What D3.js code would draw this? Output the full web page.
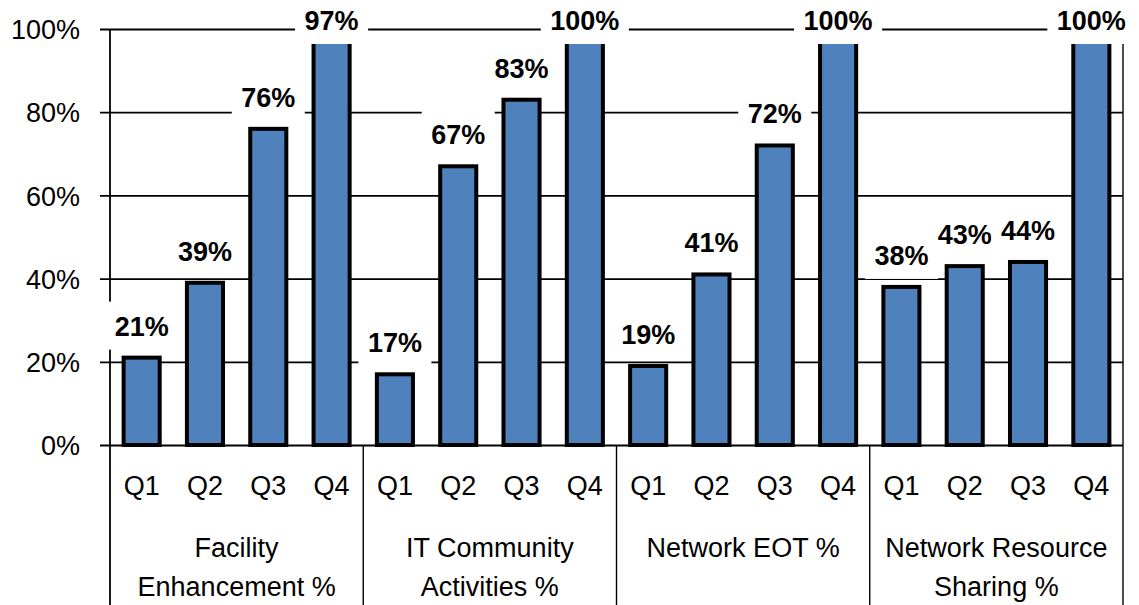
<!DOCTYPE html>
<html>
<head>
<meta charset="utf-8">
<script src="https://cdn.jsdelivr.net/npm/d3@7"></script>
<style>
  body { margin: 0; background: #fff; }
  text { font-family: "Liberation Sans", Arial, sans-serif; fill: #000; }
</style>
</head>
<body>
<div id="my_dataviz"></div>
<script>

// chart data
var groups = ["Facility Enhancement %", "IT Community Activities %", "Network EOT %", "Network Resource Sharing %"];
var groupLines = [["Facility", "Enhancement %"], ["IT Community", "Activities %"], ["Network EOT %"], ["Network Resource", "Sharing %"]];
var quarters = ["Q1", "Q2", "Q3", "Q4"];
var facility = [21, 39, 76, 97];
var community = [17, 67, 83, 100];
var eot = [19, 41, 72, 100];
var sharing = [38, 43, 44, 100];
var yTicks = [0, 20, 40, 60, 80, 100];

var seriesByGroup = [facility, community, eot, sharing];

// flatten into one row per bar
var data = [];
groups.forEach(function(g, gi) {
  quarters.forEach(function(q, qi) {
    data.push({key: gi + "-" + qi, group: g, quarter: q, value: seriesByGroup[gi][qi]});
  });
});

// set the dimensions of the graph
var W = 1139, H = 605;
var plotLeft = 110, plotRight = 1123, plotTop = 29, plotBottom = 445;

var svg = d3.select("#my_dataviz")
  .append("svg")
    .attr("width", W)
    .attr("height", H);

var x = d3.scaleBand()
  .domain(data.map(function(d) { return d.key; }))
  .range([plotLeft, plotRight])
  .paddingInner(0.43)
  .paddingOuter(0.215);

var xGroup = d3.scaleBand()
  .domain(groups)
  .range([plotLeft, plotRight]);

var y = d3.scaleLinear()
  .domain([0, 100])
  .range([plotBottom, plotTop]);

// gridlines + y tick labels
var yAxis = svg.append("g")
  .attr("transform", "translate(" + (plotLeft - 10) + ",0)")
  .call(d3.axisLeft(y)
    .tickValues(yTicks)
    .tickSizeInner(-(plotRight - plotLeft + 10))
    .tickSizeOuter(0)
    .tickPadding(20)
    .tickFormat(function(d) { return d + "%"; }));
yAxis.select(".domain").remove();
yAxis.selectAll(".tick line").attr("stroke", "#000").attr("stroke-width", 1.8);
yAxis.selectAll(".tick text")
  .style("font-size", "27px")
  .attr("dy", "0.36em")
  .attr("fill", "#000");

// left axis line and right border
svg.append("line")
  .attr("x1", plotLeft).attr("x2", plotLeft)
  .attr("y1", plotTop).attr("y2", H)
  .attr("stroke", "#000").attr("stroke-width", 1.8);
svg.append("line")
  .attr("x1", plotRight).attr("x2", plotRight)
  .attr("y1", plotTop).attr("y2", H)
  .attr("stroke", "#000").attr("stroke-width", 1.4);

// group separators under the axis
svg.selectAll(".sep")
  .data(groups.slice(1))
  .enter()
  .append("line")
    .attr("class", "sep")
    .attr("x1", function(d) { return xGroup(d); })
    .attr("x2", function(d) { return xGroup(d); })
    .attr("y1", plotBottom)
    .attr("y2", H)
    .attr("stroke", "#000")
    .attr("stroke-width", 1.4);

// bars
svg.selectAll(".bar")
  .data(data)
  .enter()
  .append("rect")
    .attr("class", "bar")
    .attr("x", function(d) { return x(d.key); })
    .attr("width", x.bandwidth())
    .attr("y", function(d) { return y(d.value); })
    .attr("height", function(d) { return y(0) - y(d.value); })
    .attr("fill", "#4F81BD")
    .attr("stroke", "#000")
    .attr("stroke-width", 4);

// quarter labels
var xAxis = svg.append("g")
  .attr("transform", "translate(0," + plotBottom + ")")
  .call(d3.axisBottom(x)
    .tickSize(0)
    .tickPadding(31)
    .tickFormat(function(k) { return quarters[+k.split("-")[1]]; }));
xAxis.select(".domain").remove();
xAxis.selectAll(".tick text")
  .style("font-size", "27px")
  .attr("fill", "#000");

// group labels (two lines)
svg.selectAll(".glabel")
  .data(groups)
  .enter()
  .append("text")
    .attr("class", "glabel")
    .attr("text-anchor", "middle")
    .style("font-size", "27px")
    .each(function(d, i) {
      var t = d3.select(this);
      groupLines[i].forEach(function(line, li) {
        t.append("tspan")
          .attr("x", xGroup(d) + xGroup.bandwidth() / 2)
          .attr("y", 557 + li * 38.5)
          .text(line);
      });
    });

// value labels with white boxes
var labels = svg.selectAll(".vlabel")
  .data(data)
  .enter()
  .append("g")
    .attr("class", "vlabel");

labels.each(function(d) {
  var g = d3.select(this);
  var boxBottom = Math.max(y(d.value) - 8, y(100) + 15);
  var cx = x(d.key) + x.bandwidth() / 2;
  var rect = g.append("rect").attr("fill", "#fff");
  var t = g.append("text")
    .attr("x", cx)
    .attr("y", boxBottom - 14)
    .attr("text-anchor", "middle")
    .style("font-size", "27px")
    .style("font-weight", "bold")
    .text(d.value + "%");
  var w = t.node().getComputedTextLength() + 19;
  rect
    .attr("x", cx - w / 2)
    .attr("width", w)
    .attr("y", boxBottom - 48)
    .attr("height", 48);
});

</script>
</body>
</html>
